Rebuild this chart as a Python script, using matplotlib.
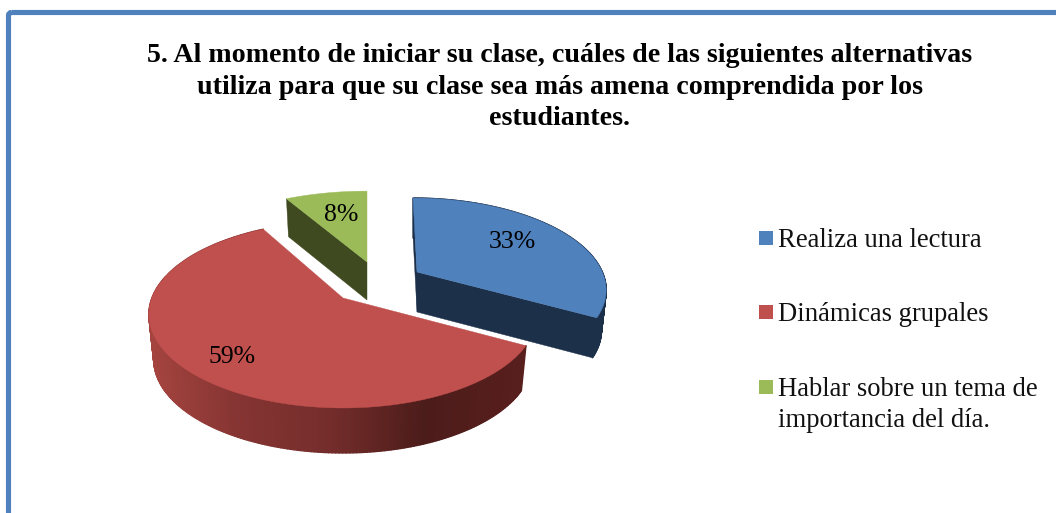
import numpy as np
import matplotlib
matplotlib.use("Agg")
import matplotlib.pyplot as plt
from matplotlib.collections import PolyCollection
from matplotlib.colors import LinearSegmentedColormap
from matplotlib.patches import FancyBboxPatch, Polygon, Rectangle

# ========= Data =========
title_text = ("5. Al momento de iniciar su clase, cuáles de las siguientes alternativas\n"
              "utiliza para que su clase sea más amena comprendida por los\n"
              "estudiantes.")
categories = ["Realiza una lectura", "Dinámicas grupales",
              "Hablar sobre un tema de\nimportancia del día."]
values = [33, 59, 8]
top_colors = ["#4f81bd", "#c0504d", "#9bbb59"]
side_colors = ["#1d304a", "#7a3230", "#3f4a20"]

# ========= Layout (pixels) =========
RX, RY, PERSP = 193, 90.6, 0.176
apex = [(417, 272), (343, 298), (367, 262)]
scale = [(0.96, 0.96), (0.99, 1.0), (1.0, 0.92)]
lean = [-0.054, 0.0, 0.0]
depth = [40, 45, 38]
label_pos = [(512, 242), (232, 357), (341, 215)]
legend_y = [238, 312, 387]
bottom_shrink = 0.975


def arc(i, a0, a1, n=240):
    """Top rim of slice i between two angles (radians, clockwise from 12 o'clock)."""
    t = np.linspace(a0, a1, n)
    w = 1 + PERSP * np.cos(t)
    dy = -RY * np.cos(t) / w * scale[i][1]
    dx = RX * np.sin(t) / w * scale[i][0] + lean[i] * -dy
    return dx, dy


fig = plt.figure(figsize=(10.56, 5.13), dpi=100)
ax = fig.add_axes([0, 0, 1, 1])
plt.rcParams["font.family"] = ["Liberation Serif", "DejaVu Serif"]

# frame runs off the right and bottom of the picture
ax.add_patch(FancyBboxPatch((8.5, 12.5), 1200, 800, boxstyle="round,pad=0,rounding_size=3",
                            fc="none", ec="#4f81bd", lw=3.7, zorder=1))

edges = np.cumsum([0] + values) / sum(values) * 2 * np.pi
grad = LinearSegmentedColormap.from_list("rim", [
    (0.0, "#a5443f"), (0.22, "#863533"), (0.48, "#742d2b"),
    (0.73, "#4c1c1a"), (1.0, "#581f1d")])

for i in [2, 0, 1]:
    ax_, ay_ = apex[i]
    dx, dy = arc(i, edges[i], edges[i + 1])
    top_x, top_y = ax_ + dx, ay_ + dy
    low_x, low_y = ax_ + dx * bottom_shrink, ay_ + dy + depth[i]
    low_ax, low_ay = ax_, ay_ + depth[i]

    # outer rim, one quad per step so the silhouette stays filled (green's rim is at the back)
    if i != 2:
        quads = [[(top_x[k], top_y[k]), (top_x[k + 1], top_y[k + 1]),
                  (low_x[k + 1], low_y[k + 1]), (low_x[k], low_y[k])] for k in range(len(top_x) - 1)]
        if i == 1:
            xmid = (top_x[:-1] + top_x[1:]) / 2
            cols = grad((xmid - xmid.min()) / (xmid.max() - xmid.min()))
        else:
            cols = side_colors[i]
        ax.add_collection(PolyCollection(quads, facecolors=cols, edgecolors=cols, linewidths=1.0, zorder=2))

    # cut faces
    ends = {0: (0, -1), 1: (), 2: (0,)}[i]
    for end in ends:
        face = [(ax_, ay_), (top_x[end], top_y[end]), (low_x[end], low_y[end]), (low_ax, low_ay)]
        ax.add_patch(Polygon(face, closed=True, fc=side_colors[i], ec=side_colors[i], lw=0.3, zorder=2))

    # top face
    top = np.column_stack([np.r_[ax_, top_x], np.r_[ay_, top_y]])
    ax.add_patch(Polygon(top, closed=True, fc=top_colors[i], ec=top_colors[i], lw=0.3, zorder=3))

    ax.text(*label_pos[i], f"{values[i]}%", ha="center", va="center", fontsize=18.5,
            color="black", zorder=5)

# legend
for name, col, y in zip(categories, top_colors, legend_y):
    ax.add_patch(Rectangle((759, y - 7), 14, 14, fc=col, ec="none", zorder=4))
    ax.text(778, y + 9, name.split("\n")[0], fontsize=19.2, va="baseline", ha="left", color="#111111")
    if "\n" in name:
        ax.text(778, y + 40, name.split("\n")[1], fontsize=19.2, va="baseline", ha="left", color="#111111")

ax.text(560, 87, title_text, fontsize=20.2, fontweight="bold", ha="center", va="center",
        linespacing=1.35, color="black")

ax.set_xlim(0, 1056)
ax.set_ylim(513, 0)
ax.axis("off")
fig.savefig("out.png", dpi=100, facecolor="white")
plt.close(fig)
